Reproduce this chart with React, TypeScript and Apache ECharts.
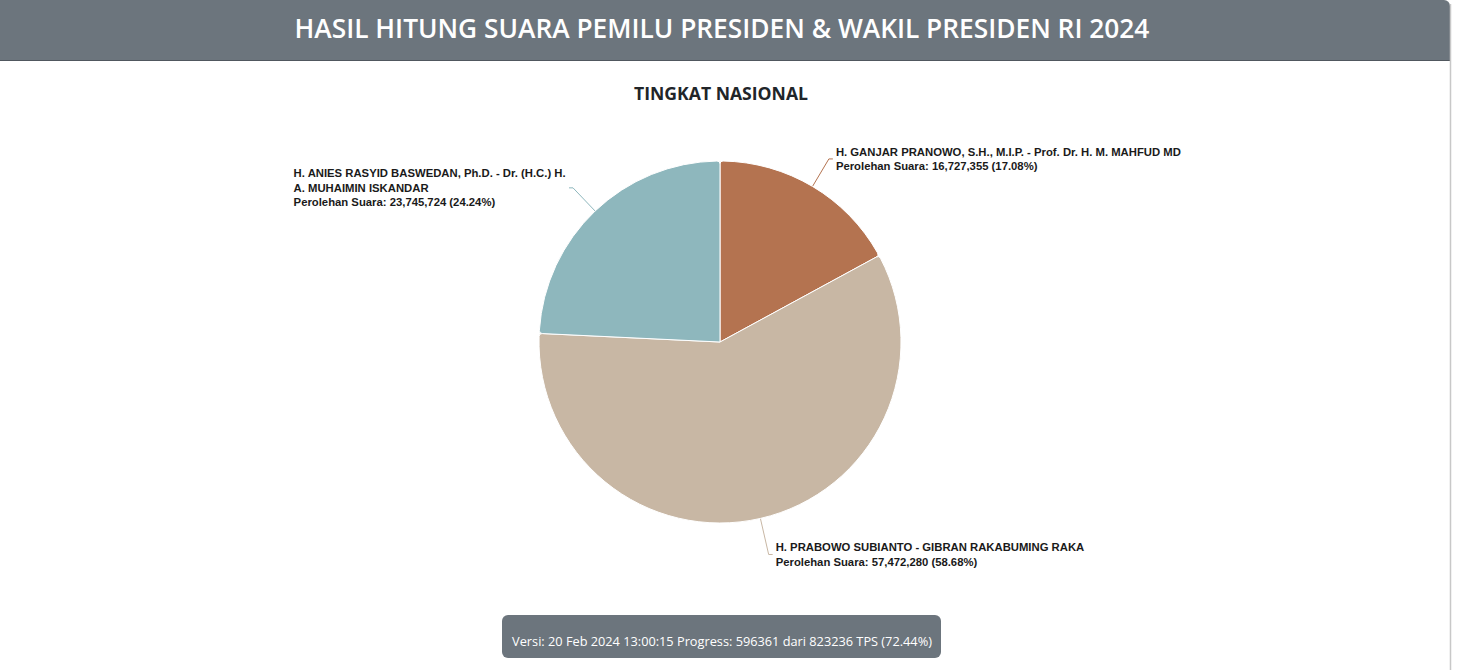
import React, { useEffect, useRef } from "react";
import * as echarts from "echarts";

const HEADER_TITLE = "HASIL HITUNG SUARA PEMILU PRESIDEN & WAKIL PRESIDEN RI 2024";
const CHART_TITLE = "TINGKAT NASIONAL";
const FOOTER_TEXT = "Versi: 20 Feb 2024 13:00:15 Progress: 596361 dari 823236 TPS (72.44%)";

const candidates = [
  "H. GANJAR PRANOWO, S.H., M.I.P. - Prof. Dr. H. M. MAHFUD MD",
  "H. PRABOWO SUBIANTO - GIBRAN RAKABUMING RAKA",
  "H. ANIES RASYID BASWEDAN, Ph.D. - Dr. (H.C.) H. A. MUHAIMIN ISKANDAR",
];
const votes = [16727355, 57472280, 23745724];
const colors = ["#b47350", "#c8b7a4", "#8eb7bd"];
const labelMaxWidths = [1000, 1000, 276];
const labelLineLengths = [32, 37, 32];

const LABEL_FONT_SIZE = 11.3;
const LABEL_FONT = `bold ${LABEL_FONT_SIZE}px 'Liberation Sans'`;

function wrapText(text: string, maxWidth: number): string[] {
  const canvas = document.createElement("canvas");
  const ctx = canvas.getContext("2d")!;
  ctx.font = LABEL_FONT;
  const words = text.split(" ");
  const lines: string[] = [];
  let cur = "";
  for (const w of words) {
    const test = cur ? cur + " " + w : w;
    if (cur && ctx.measureText(test).width > maxWidth) {
      lines.push(cur);
      cur = w;
    } else {
      cur = test;
    }
  }
  if (cur) lines.push(cur);
  return lines;
}

export default function App() {
  const ref = useRef<HTMLDivElement>(null);
  useEffect(() => {
    document.body.style.margin = "0";
    const chart = echarts.init(ref.current!, undefined, { renderer: "svg" });
    const total = votes.reduce((a, b) => a + b, 0);
    const data = candidates.map((name, i) => ({
      name,
      value: votes[i],
      itemStyle: { color: colors[i] },
      labelLine: { length: labelLineLengths[i] },
    }));
    chart.setOption({
      animation: false,
      graphic: [
        { type: "rect", shape: { x: 0, y: 0, width: 1450, height: 60, r: [0, 6, 0, 0] }, style: { fill: "#6c757d" } },
        { type: "line", shape: { x1: 0, y1: 60.5, x2: 1450, y2: 60.5 }, style: { stroke: "#50575e", lineWidth: 1 } },
        { type: "line", shape: { x1: 1450.5, y1: 4, x2: 1450.5, y2: 670 }, style: { stroke: "#c8c8c8", lineWidth: 1.5 } },
        {
          type: "text", x: 722, y: 28,
          style: { text: HEADER_TITLE, fill: "#ffffff", font: "600 26.3px 'Open Sans'", textAlign: "center", textVerticalAlign: "middle" },
        },
        {
          type: "text", x: 721, y: 93,
          style: { text: CHART_TITLE, fill: "#212529", font: "bold 17.6px 'Open Sans'", textAlign: "center", textVerticalAlign: "middle" },
        },
        { type: "rect", shape: { x: 502, y: 615, width: 439, height: 43, r: 6 }, style: { fill: "#6c757d" } },
        {
          type: "text", x: 722, y: 641,
          style: { text: FOOTER_TEXT, fill: "#ffffff", font: "12.75px 'Open Sans'", textAlign: "center", textVerticalAlign: "middle" },
        },
      ],
      series: [
        {
          type: "pie",
          center: [720, 342],
          radius: 181,
          startAngle: 90,
          clockwise: true,
          avoidLabelOverlap: false,
          data,
          itemStyle: { borderColor: "#ffffff", borderWidth: 1, borderRadius: 3 },
          emphasis: { disabled: true },
          label: {
            show: true,
            position: "outside",
            alignTo: "none",
            distanceToLabelLine: 3,
            formatter: (p: any) => {
              const pct = ((p.value / total) * 100).toFixed(2);
              const lines = wrapText(p.name, labelMaxWidths[p.dataIndex]);
              lines.push(`Perolehan Suara: ${p.value.toLocaleString("en-US")} (${pct}%)`);
              return lines.map((l) => `{n|${l}}`).join("\n");
            },
            rich: {
              n: {
                align: "left",
                fontFamily: "'Liberation Sans', Arial, sans-serif",
                fontSize: LABEL_FONT_SIZE,
                fontWeight: "bold",
                color: "#1a1a1a",
                lineHeight: 14.5,
                textBorderColor: "#fff",
                textBorderWidth: 1,
              },
            },
          },
          labelLine: { show: true, length: 32, length2: 4, smooth: false, lineStyle: { width: 1 } },
        },
      ],
    });
    return () => chart.dispose();
  }, []);
  return <div ref={ref} style={{ position: "absolute", left: 0, top: 0, width: 1464, height: 670 }} />;
}
